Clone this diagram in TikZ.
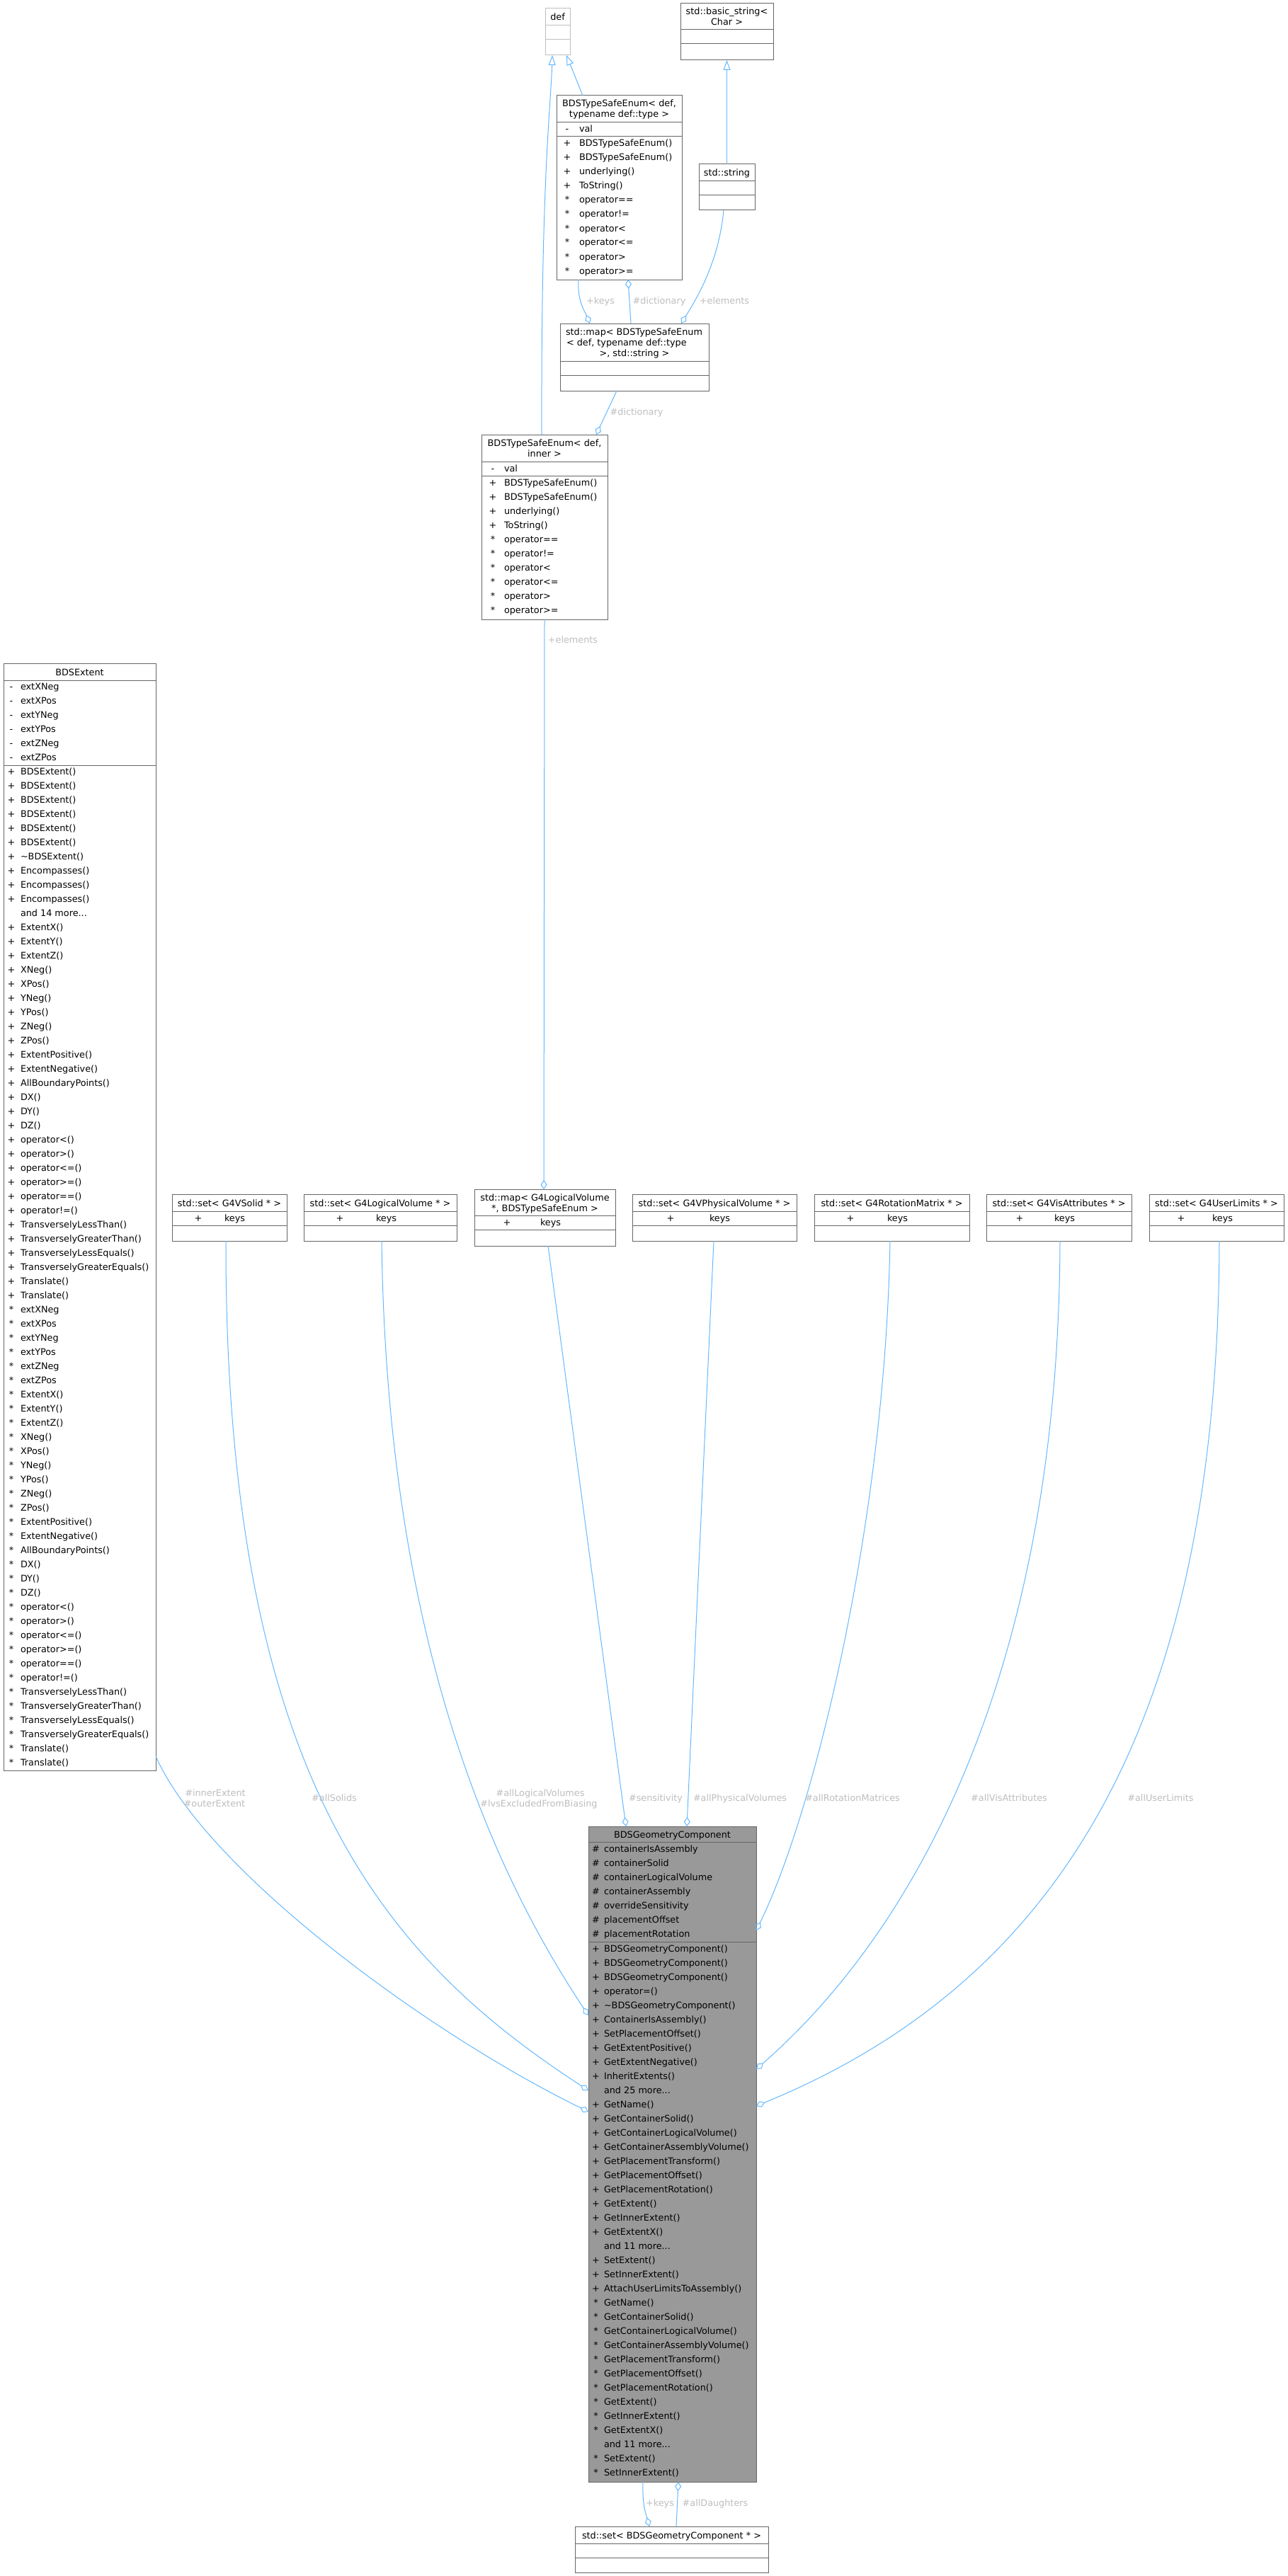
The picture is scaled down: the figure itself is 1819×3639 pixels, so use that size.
\documentclass[tikz,border=0pt]{standalone}
\usepackage{fontspec}
\setmainfont{DejaVu Sans}
\usetikzlibrary{arrows.meta}

\definecolor{edgeblue}{HTML}{63B8FF}
\definecolor{framegray}{HTML}{666666}
\definecolor{lightgray}{HTML}{BFBFBF}
\definecolor{labelgray}{HTML}{BEBEBE}
\definecolor{gcgray}{HTML}{999999}

\tikzset{
    classframe/.style={draw=framegray, line width=1pt, inner sep=0pt, outer sep=0pt},
    defframe/.style={draw=lightgray, line width=1pt, inner sep=0pt, outer sep=0pt},
    member/.style={inner sep=0pt, outer sep=0pt, font=\fontsize{12.8}{15}\selectfont},
    edgelabel/.style={member, text=labelgray, anchor=base},
    assoc/.style={draw=edgeblue, line width=1pt, -{Diamond[open, length=13pt, width=9pt]}},
    inherit/.style={draw=edgeblue, line width=1pt, -{Triangle[open, length=14pt, width=10pt]}},
    common settings/.style={x=1pt, y=-1pt}
}

\newcommand\mdots{...}

% box with three compartments: name, left, top, width, heights
\newcommand\classbox[8][classframe]{%
    \pgfmathsetmacro\boxh{#6+#7+#8}
    \node[#1, anchor=north west, minimum width=#5pt, minimum height=\boxh pt] (#2) at (#3,#4) {};
    \draw[#1] ([yshift=-#6pt]#2.north west) -- ([yshift=-#6pt]#2.north east);
    \pgfmathsetmacro\boxh{#6+#7}
    \draw[#1] ([yshift=-\boxh pt]#2.north west) -- ([yshift=-\boxh pt]#2.north east);
}

% rows of a compartment: box, symbol x, name x, first baseline, tag, list
\newcommand\members[6]{%
    \foreach \msym/\mname [count=\i from 0] in {#6}{
        \pgfmathsetmacro\dy{#4+20*\i}
        \node[member, anchor=base] (#1-#5s\i) at ([xshift=#2pt, yshift=-\dy pt]#1.north west) {\msym};
        \node[member, anchor=base west] (#1-#5n\i) at ([xshift=#3pt, yshift=-\dy pt]#1.north west) {\mname};
    }
}

\begin{document}
\begin{tikzpicture}[common settings]

    \fill[white] (0,0) rectangle (1819,3639);
    \useasboundingbox (0,0) rectangle (1819,3639);

    % Top: enum templates and strings
    \classbox[defframe]{def}{770}{12}{35}{24}{20}{22}
    \node[member, anchor=base] (def-title) at ([yshift=-17pt]def.north) {def};

    \classbox{basicstr}{961}{5}{131}{37}{20}{23}
    \node[member, anchor=base] (basicstr-title) at ([yshift=-16pt]basicstr.north) {std::basic\_string<};
    \node[member, anchor=base] (basicstr-title2) at ([yshift=-31pt]basicstr.north) {Char >};

    \classbox{tsetype}{786}{135}{177}{38}{20}{202}
    \node[member, anchor=base] (tsetype-title) at ([yshift=-16pt]tsetype.north) {BDSTypeSafeEnum< def,};
    \node[member, anchor=base] (tsetype-title2) at ([yshift=-31pt]tsetype.north) {typename def::type >};
    \members{tsetype}{15}{32}{52}{a}{-/val}
    \members{tsetype}{15}{32}{72}{m}{+/BDSTypeSafeEnum(), +/BDSTypeSafeEnum(), +/underlying(), +/ToString(),
        */operator==, */operator!=, */operator<, */operator<=, */operator>, */operator>=}

    \classbox{stdstr}{987}{232}{79}{24}{20}{21}
    \node[member, anchor=base] (stdstr-title) at ([yshift=-17pt]stdstr.north) {std::string};

    \classbox{enummap}{791}{457}{210}{53}{20}{22}
    \node[member, anchor=base west] (enummap-title) at ([xshift=8pt, yshift=-16pt]enummap.north west) {std::map< BDSTypeSafeEnum};
    \node[member, anchor=base west] (enummap-title2) at ([xshift=9pt, yshift=-31pt]enummap.north west) {< def, typename def::type};
    \node[member, anchor=base] (enummap-title3) at ([yshift=-46pt]enummap.north) {>, std::string >};

    \classbox{tseinner}{680}{614}{178}{38}{20}{203}
    \node[member, anchor=base] (tseinner-title) at ([yshift=-16pt]tseinner.north) {BDSTypeSafeEnum< def,};
    \node[member, anchor=base] (tseinner-title2) at ([yshift=-31pt]tseinner.north) {inner >};
    \members{tseinner}{16}{32}{52}{a}{-/val}
    \members{tseinner}{16}{32}{72}{m}{+/BDSTypeSafeEnum(), +/BDSTypeSafeEnum(), +/underlying(), +/ToString(),
        */operator==, */operator!=, */operator<, */operator<=, */operator>, */operator>=}

    % BDSExtent
    \classbox{extent}{5}{937}{215}{24}{120}{1420}
    \node[member, anchor=base] (extent-title) at ([yshift=-17pt]extent.north) {BDSExtent};
    \members{extent}{11}{24}{37}{a}{-/extXNeg, -/extXPos, -/extYNeg, -/extYPos, -/extZNeg, -/extZPos}
    \members{extent}{11}{24}{157}{m}{+/BDSExtent(), +/BDSExtent(), +/BDSExtent(), +/BDSExtent(), +/BDSExtent(),
        +/BDSExtent(), +/\textasciitilde BDSExtent(), +/Encompasses(), +/Encompasses(), +/Encompasses(),
        {}/and 14 more\mdots, +/ExtentX(), +/ExtentY(), +/ExtentZ(), +/XNeg(), +/XPos(), +/YNeg(), +/YPos(),
        +/ZNeg(), +/ZPos(), +/ExtentPositive(), +/ExtentNegative(), +/AllBoundaryPoints(), +/DX(), +/DY(), +/DZ(),
        +/operator<(), +/operator>(), +/operator<=(), +/operator>=(), +/operator==(), +/operator!=(),
        +/TransverselyLessThan(), +/TransverselyGreaterThan(), +/TransverselyLessEquals(),
        +/TransverselyGreaterEquals(), +/Translate(), +/Translate(),
        */extXNeg, */extXPos, */extYNeg, */extYPos, */extZNeg, */extZPos, */ExtentX(), */ExtentY(), */ExtentZ(),
        */XNeg(), */XPos(), */YNeg(), */YPos(), */ZNeg(), */ZPos(), */ExtentPositive(), */ExtentNegative(),
        */AllBoundaryPoints(), */DX(), */DY(), */DZ(), */operator<(), */operator>(), */operator<=(),
        */operator>=(), */operator==(), */operator!=(), */TransverselyLessThan(), */TransverselyGreaterThan(),
        */TransverselyLessEquals(), */TransverselyGreaterEquals(), */Translate(), */Translate()}

    % Containers row
    \classbox{vsolid}{243}{1687}{162}{24}{20}{22}
    \node[member, anchor=base] (vsolid-title) at ([yshift=-17pt]vsolid.north) {std::set< G4VSolid * >};
    \members{vsolid}{37}{74}{38}{k}{+/keys}

    \classbox{lvset}{429}{1687}{216}{24}{20}{22}
    \node[member, anchor=base] (lvset-title) at ([yshift=-17pt]lvset.north) {std::set< G4LogicalVolume * >};
    \members{lvset}{51}{102}{38}{k}{+/keys}

    \classbox{lvmap}{670}{1680}{199}{37}{20}{23}
    \node[member, anchor=base] (lvmap-title) at ([yshift=-16pt]lvmap.north) {std::map< G4LogicalVolume};
    \node[member, anchor=base] (lvmap-title2) at ([yshift=-31pt]lvmap.north) {*, BDSTypeSafeEnum >};
    \members{lvmap}{46}{93}{51}{k}{+/keys}

    \classbox{pvset}{893}{1687}{232}{24}{20}{22}
    \node[member, anchor=base] (pvset-title) at ([yshift=-17pt]pvset.north) {std::set< G4VPhysicalVolume * >};
    \members{pvset}{54}{109}{38}{k}{+/keys}

    \classbox{rotset}{1150}{1687}{219}{24}{20}{22}
    \node[member, anchor=base] (rotset-title) at ([yshift=-17pt]rotset.north) {std::set< G4RotationMatrix * >};
    \members{rotset}{51}{103}{38}{k}{+/keys}

    \classbox{visset}{1393}{1687}{205}{24}{20}{22}
    \node[member, anchor=base] (visset-title) at ([yshift=-17pt]visset.north) {std::set< G4VisAttributes * >};
    \members{visset}{47}{96}{38}{k}{+/keys}

    \classbox{ulset}{1623}{1687}{190}{24}{20}{22}
    \node[member, anchor=base] (ulset-title) at ([yshift=-17pt]ulset.north) {std::set< G4UserLimits * >};
    \members{ulset}{45}{89}{38}{k}{+/keys}

    % BDSGeometryComponent (the class itself)
    \classbox[classframe, fill=gcgray]{gc}{831}{2580}{237}{22}{141}{763}
    \node[member, anchor=base] (gc-title) at ([yshift=-16pt]gc.north) {BDSGeometryComponent};
    \members{gc}{10.5}{22}{36}{a}{\#/containerIsAssembly, \#/containerSolid, \#/containerLogicalVolume,
        \#/containerAssembly, \#/overrideSensitivity, \#/placementOffset, \#/placementRotation}
    \members{gc}{10.5}{22}{177}{m}{+/BDSGeometryComponent(), +/BDSGeometryComponent(), +/BDSGeometryComponent(),
        +/operator=(), +/\textasciitilde BDSGeometryComponent(), +/ContainerIsAssembly(), +/SetPlacementOffset(),
        +/GetExtentPositive(), +/GetExtentNegative(), +/InheritExtents(), {}/and 25 more\mdots,
        +/GetName(), +/GetContainerSolid(), +/GetContainerLogicalVolume(), +/GetContainerAssemblyVolume(),
        +/GetPlacementTransform(), +/GetPlacementOffset(), +/GetPlacementRotation(), +/GetExtent(),
        +/GetInnerExtent(), +/GetExtentX(), {}/and 11 more\mdots, +/SetExtent(), +/SetInnerExtent(),
        +/AttachUserLimitsToAssembly(), */GetName(), */GetContainerSolid(), */GetContainerLogicalVolume(),
        */GetContainerAssemblyVolume(), */GetPlacementTransform(), */GetPlacementOffset(),
        */GetPlacementRotation(), */GetExtent(), */GetInnerExtent(), */GetExtentX(), {}/and 11 more\mdots,
        */SetExtent(), */SetInnerExtent()}

    \classbox{gcset}{812}{3569}{273}{24}{20}{21}
    \node[member, anchor=base] (gcset-title) at ([yshift=-17pt]gcset.north) {std::set< BDSGeometryComponent * >};

    % Inheritance
    \draw[inherit] ([xshift=85pt]tseinner.north west) .. controls (764,250) and (778,150) .. ([xshift=10pt]def.south west);
    \draw[inherit] ([xshift=37pt]tsetype.north west) -- ([xshift=30pt]def.south west);
    \draw[inherit] (stdstr.north) -- (basicstr.south);

    % Usage, top part
    \draw[assoc] ([xshift=31pt]tsetype.south west) .. controls (815,425) and (826,440) .. ([xshift=42pt]enummap.north west);
    \draw[assoc] ([xshift=100pt]enummap.north west) -- ([xshift=101pt]tsetype.south west);
    \draw[assoc] ([xshift=35pt]stdstr.south west) .. controls (1015,370) and (985,420) .. ([xshift=171pt]enummap.north west);
    \draw[assoc] ([xshift=80pt]enummap.south west) -- ([xshift=162pt]tseinner.north west);
    \draw[assoc] ([xshift=89pt]tseinner.south west) -- ([xshift=98pt]lvmap.north west);

    \node[edgelabel] (keys-lbl) at (848,429.5) {+keys};
    \node[edgelabel] (dict-lbl) at (931,429.5) {\#dictionary};
    \node[edgelabel] (elem-lbl) at (1023,429.5) {+elements};
    \node[edgelabel] (dict-lbl2) at (899,586.5) {\#dictionary};
    \node[edgelabel] (elem-lbl2) at (809,908.5) {+elements};

    % Usage, into BDSGeometryComponent
    \draw[assoc] ([yshift=20pt]extent.south east) .. controls (290,2640) and (600,2870) .. ([yshift=-403pt]gc.north west);
    \draw[assoc] ([xshift=76pt]vsolid.south west) .. controls (318,2520) and (550,2770) .. ([yshift=-373pt]gc.north west);
    \draw[assoc] ([xshift=110pt]lvset.south west) .. controls (545,2200) and (640,2560) .. ([yshift=-267pt]gc.north west);
    \draw[assoc] ([xshift=104pt]lvmap.south west) -- ([xshift=53pt]gc.north west);
    \draw[assoc] ([xshift=115pt]pvset.south west) -- ([xshift=139pt]gc.north west);
    \draw[assoc] ([xshift=107pt]rotset.south west) .. controls (1250,2150) and (1150,2560) .. ([yshift=-147pt]gc.north east);
    \draw[assoc] ([xshift=104pt]visset.south west) .. controls (1495,2350) and (1300,2720) .. ([yshift=-343pt]gc.north east);
    \draw[assoc] ([xshift=99pt]ulset.south west) .. controls (1720,2400) and (1520,2790) .. ([yshift=-395pt]gc.north east);

    \node[edgelabel] (ext-lbl) at (304,2537.5) {\#innerExtent};
    \node[edgelabel] (ext-lbl2) at (303,2552.5) {\#outerExtent};
    \node[edgelabel] (solid-lbl) at (472,2544.5) {\#allSolids};
    \node[edgelabel] (lv-lbl) at (763,2537.5) {\#allLogicalVolumes};
    \node[edgelabel] (lv-lbl2) at (761,2552.5) {\#lvsExcludedFromBiasing};
    \node[edgelabel] (sens-lbl) at (926,2544.5) {\#sensitivity};
    \node[edgelabel] (pv-lbl) at (1045,2544.5) {\#allPhysicalVolumes};
    \node[edgelabel] (rot-lbl) at (1204,2544.5) {\#allRotationMatrices};
    \node[edgelabel] (vis-lbl) at (1425,2544.5) {\#allVisAttributes};
    \node[edgelabel] (ul-lbl) at (1639,2544.5) {\#allUserLimits};

    % Daughters
    \draw[assoc] ([xshift=77pt]gc.south west) .. controls (907,3540) and (912,3550) .. ([xshift=105pt]gcset.north west);
    \draw[assoc] ([xshift=143pt]gcset.north west) -- ([xshift=127pt]gc.south west);

    \node[edgelabel] (keys-lbl2) at (932,3540.5) {+keys};
    \node[edgelabel] (dau-lbl) at (1010,3540.5) {\#allDaughters};

\end{tikzpicture}
\end{document}
